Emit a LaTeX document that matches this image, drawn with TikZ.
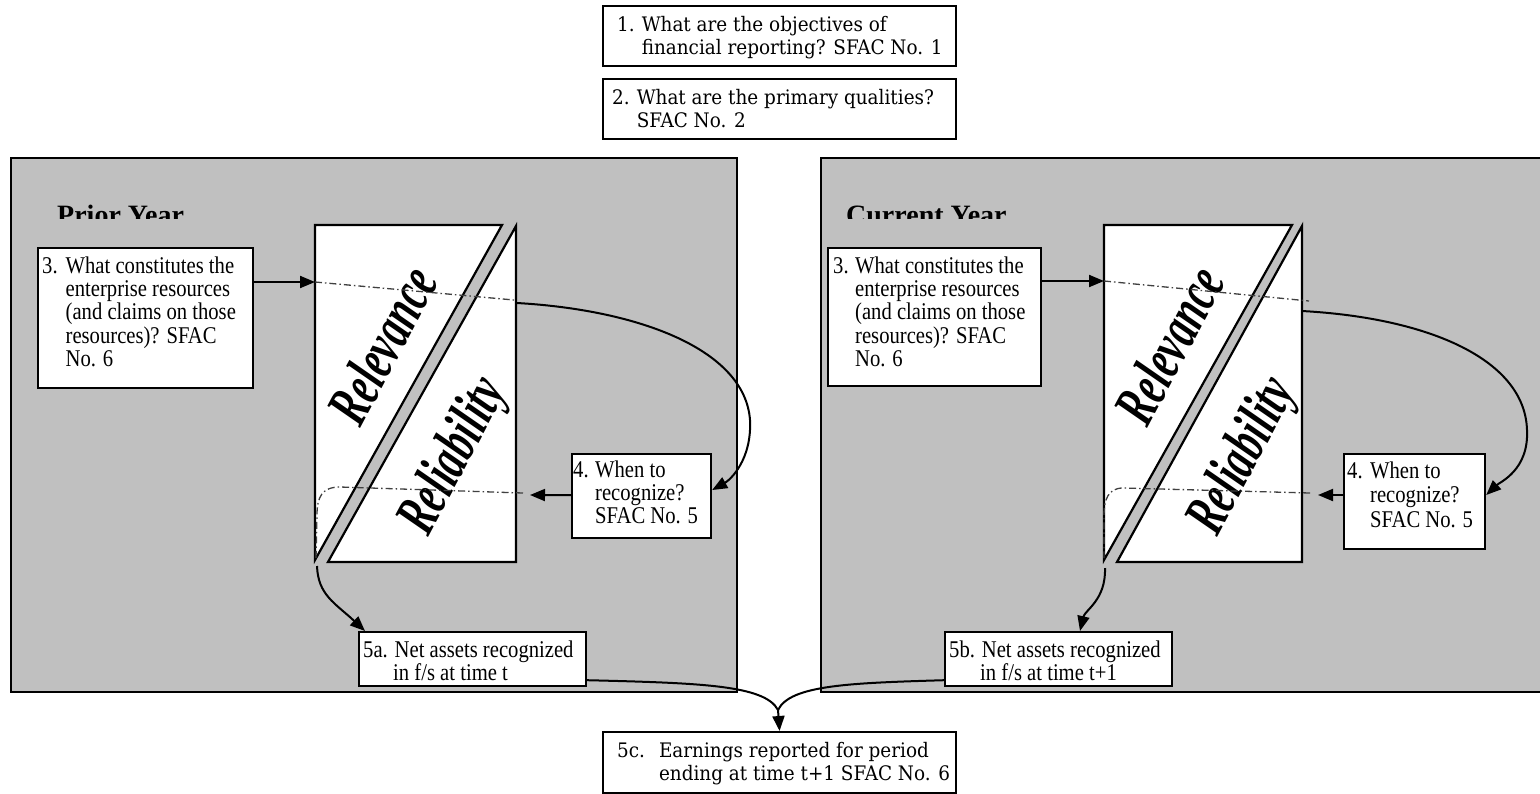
\documentclass[tikz,border=0pt]{standalone}
\usepackage{fontspec}
\usetikzlibrary{arrows.meta,calc}
\newfontfamily\tms[FakeStretch=0.86]{Liberation Serif}
\newfontfamily\tmsplain{Liberation Serif}
\newfontfamily\fancy[FakeStretch=0.66]{Liberation Serif}
\newfontfamily\cent[FakeStretch=0.92]{DejaVu Serif}
\definecolor{panelgray}{RGB}{192,192,192}
\newcommand\qtab[3]{\begin{tabular}[t]{@{}l@{\hspace{#1}}l@{}}#2&#3\end{tabular}}
\tikzset{
  panel/.style={draw=black, line width=2.3pt, fill=panelgray},
  qbox/.style={draw=black, line width=2.2pt, fill=white, anchor=north west, inner sep=0pt},
  tri/.style={draw=black, line width=2.2pt, fill=white, line join=miter},
  ctxt/.style={anchor=base west, inner sep=0pt, font=\cent\fontsize{20}{23.5}\selectfont},
  ttxt/.style={anchor=base west, inner sep=0pt, font=\tms\fontsize{24}{23}\selectfont},
  title/.style={anchor=base west, inner sep=0pt, font=\tmsplain\bfseries\fontsize{28}{30}\selectfont},
  qual/.style={inner sep=0pt, font=\fancy\bfseries\itshape\fontsize{60}{60}\selectfont},
  arr/.style={line width=2pt, -{Triangle[length=15pt,width=12pt]}},
  conn/.style={line width=2pt},
  dashdot/.style={line width=1.3pt, dash pattern=on 7pt off 3pt on 1.5pt off 3pt, black!75},
}
\begin{document}
\begin{tikzpicture}[x=1pt,y=-1pt]
\useasboundingbox (0,0) rectangle (1540,793);

% ---- top boxes
\node[qbox, minimum width=353pt, minimum height=60pt] (b1) at (602,5) {};
\node[ctxt] (t1) at (617,31) {\qtab{7pt}{1.}{What are the objectives of\\&financial reporting? SFAC No. 1}};
\node[qbox, minimum width=353pt, minimum height=60pt] (b2) at (602,78) {};
\node[ctxt] (t2) at (612,104) {\qtab{7pt}{2.}{What are the primary qualities?\\&SFAC No. 2}};

% ---- panels
\draw[panel] (11,158) rectangle (737,692);
\draw[panel] (1560,158) -- (821,158) -- (821,692) -- (1560,692);

\begin{scope}
  \clip (11,160) rectangle (1540,218);
  \node[title] (ttlL) at (57,224.5) {Prior Year};
  \node[title] (ttlR) at (846,224.5) {Current Year};
\end{scope}

% ---- left panel
\node[qbox, minimum width=215pt, minimum height=140pt] (b3L) at (37,247) {};
\node[ttxt] (t3L) at (42,273) {\qtab{8pt}{3.}{What constitutes the\\&enterprise resources\\&(and claims on those\\&resources)? SFAC\\&No. 6}};

\filldraw[tri] (315,225) -- (502,225) -- (315,560) -- cycle;
\filldraw[tri] (516,226) -- (516,562) -- (328,562) -- cycle;
\node[qual, rotate=62] (relL) at (382,345) {Relevance};
\node[qual, rotate=62] (relyL) at (455,457) {Reliability};

\coordinate (inL) at (315,282);
\coordinate (outL) at (517,303);
\coordinate (backL) at (530,495);
\coordinate (botL) at (317,566);

\node[qbox, minimum width=139pt, minimum height=84pt] (b4L) at (571,453) {};
\node[ttxt] (t4L) at (573,477) {\qtab{6.5pt}{4.}{When to\\&recognize?\\&SFAC No. 5}};

\node[qbox, minimum width=227pt, minimum height=54pt] (b5a) at (358,631) {};
\node[ttxt] (t5a) at (363,657) {\begin{tabular}[t]{@{}l@{}}5a. Net assets recognized\\\hspace*{30pt}in f/s at time t\end{tabular}};

\draw[arr] ($(b3L.north east)+(0,35)$) -- (inL);
\draw[dashdot] (inL) -- (514,300);
\draw[arr] (outL) .. controls (640,310) and (745,350) .. (750,420) .. controls (752,460) and (730,480) .. ($(b4L.north east)+(0,37)$);
\draw[arr] ($(b4L.west)+(0,-1)$) -- (backL);
\draw[dashdot] (523,493) -- (340,487) .. controls (322,487) and (317,497) .. (317,515) -- (316,558);
\draw[arr] (botL) .. controls (318,595) and (335,603) .. ($(b5a.north west)+(7,0)$);

% ---- right panel
\node[qbox, minimum width=213pt, minimum height=138pt] (b3R) at (827,247) {};
\node[ttxt] (t3R) at (833,273) {\qtab{6.5pt}{3.}{What constitutes the\\&enterprise resources\\&(and claims on those\\&resources)? SFAC\\&No. 6}};

\filldraw[tri] (1104,225) -- (1292,225) -- (1104,560) -- cycle;
\filldraw[tri] (1302,226) -- (1302,562) -- (1117,562) -- cycle;
\node[qual, rotate=62] (relR) at (1169,345) {Relevance};
\node[qual, rotate=62] (relyR) at (1244,457) {Reliability};

\coordinate (inR) at (1104,281);
\coordinate (outR) at (1302,311);
\coordinate (backR) at (1318,495);
\coordinate (botR) at (1105,568);

\node[qbox, minimum width=141pt, minimum height=95pt] (b4R) at (1343,453) {};
\node[ttxt, font=\tms\fontsize{24}{24.5}\selectfont] (t4R) at (1347,478) {\qtab{7.5pt}{4.}{When to\\&recognize?\\&SFAC No. 5}};

\node[qbox, minimum width=227pt, minimum height=54pt] (b5b) at (944,631) {};
\node[ttxt] (t5b) at (949,657) {\begin{tabular}[t]{@{}l@{}}5b. Net assets recognized\\\hspace*{31pt}in f/s at time t+1\end{tabular}};

\draw[arr] ($(b3R.north east)+(0,34)$) -- (inR);
\draw[dashdot] (inR) -- (1309,301);
\draw[arr] (outR) .. controls (1430,318) and (1525,360) .. (1527,430) .. controls (1529,470) and (1500,482) .. ($(b4R.north east)+(0,42)$);
\draw[arr] ($(b4R.north west)+(0,42)$) -- (backR);
\draw[dashdot] (1310,493) -- (1123,488) .. controls (1108,488) and (1104,500) .. (1104,515) -- (1104,558);
\draw[arr] (botR) .. controls (1106,600) and (1085,610) .. ($(b5b.north west)+(136,0)$);

% ---- bottom
\node[qbox, minimum width=353pt, minimum height=61pt] (b5c) at (602,731) {};
\node[ctxt] (t5c) at (617,757) {\qtab{14pt}{5c.}{Earnings reported for period\\&ending at time t+1 SFAC No. 6}};

\coordinate (merge) at (778,710);
\draw[conn] ($(b5a.south east)+(0,-7)$) .. controls (700,683) and (765,685) .. (merge);
\draw[conn] ($(b5b.south west)+(0,-7)$) .. controls (850,683) and (790,685) .. (merge);
\draw[arr] (merge) -- (b5c.north);
\end{tikzpicture}
\end{document}
